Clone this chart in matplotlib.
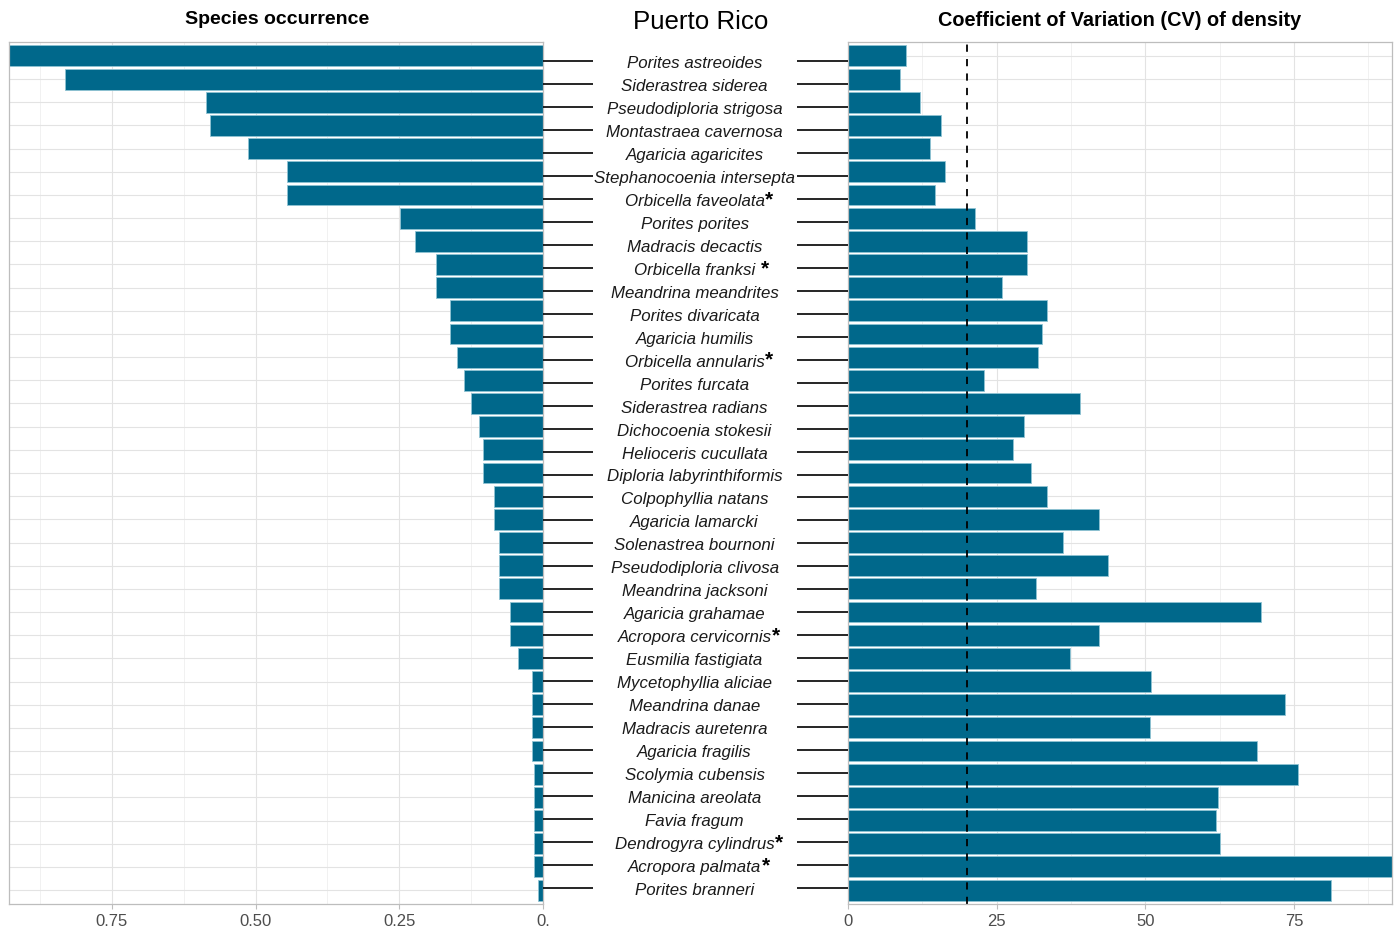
import numpy as np
import matplotlib
matplotlib.use("Agg")
import matplotlib.pyplot as plt

plt.rcParams['font.family'] = ['Liberation Sans', 'DejaVu Sans']

species = [
    "Porites astreoides", "Siderastrea siderea", "Pseudodiploria strigosa",
    "Montastraea cavernosa", "Agaricia agaricites", "Stephanocoenia intersepta",
    "Orbicella faveolata", "Porites porites", "Madracis decactis",
    "Orbicella franksi", "Meandrina meandrites", "Porites divaricata",
    "Agaricia humilis", "Orbicella annularis", "Porites furcata",
    "Siderastrea radians", "Dichocoenia stokesii", "Helioceris cucullata",
    "Diploria labyrinthiformis", "Colpophyllia natans", "Agaricia lamarcki",
    "Solenastrea bournoni", "Pseudodiploria clivosa", "Meandrina jacksoni",
    "Agaricia grahamae", "Acropora cervicornis", "Eusmilia fastigiata",
    "Mycetophyllia aliciae", "Meandrina danae", "Madracis auretenra",
    "Agaricia fragilis", "Scolymia cubensis", "Manicina areolata",
    "Favia fragum", "Dendrogyra cylindrus", "Acropora palmata",
    "Porites branneri",
]
starred = ["Orbicella faveolata", "Orbicella franksi", "Orbicella annularis",
           "Acropora cervicornis", "Dendrogyra cylindrus", "Acropora palmata"]

occurrence = [0.929, 0.832, 0.586, 0.579, 0.513, 0.445, 0.445, 0.248, 0.222,
              0.186, 0.186, 0.161, 0.161, 0.149, 0.137, 0.125, 0.112, 0.105,
              0.105, 0.086, 0.086, 0.076, 0.076, 0.076, 0.057, 0.057, 0.044,
              0.020, 0.020, 0.020, 0.020, 0.015, 0.015, 0.015, 0.015, 0.015,
              0.008]
cv_density = [9.8, 8.7, 12.1, 15.6, 13.8, 16.3, 14.6, 21.4, 30.1, 30.1, 25.9,
              33.5, 32.6, 32.0, 22.9, 39.0, 29.6, 27.8, 30.8, 33.5, 42.2, 36.2,
              43.7, 31.6, 69.5, 42.2, 37.3, 51.0, 73.5, 50.8, 68.8, 75.7, 62.2,
              61.9, 62.6, 91.5, 81.3]
cv_threshold = 20

occ_ticks = [0.75, 0.50, 0.25, 0.0]
occ_ticklabels = ["0.75", "0.50", "0.25", "0."]
occ_minor = [0.875, 0.625, 0.375, 0.125]
cv_ticks = [0, 25, 50, 75]
cv_minor = [12.5, 37.5, 62.5, 87.5]

BAR = "#00688B"
EDGE = "#8fc3d3"
GRID = "#E3E3E3"
GRID_MINOR = "#EFEFEF"
BORDER = "#BDBDBD"
TICKLBL = "#4D4D4D"

W, H = 1397, 928
fig = plt.figure(figsize=(W / 100, H / 100), dpi=100)


def rect(x0, y0, x1, y1):
    return [x0 / W, 1 - y1 / H, (x1 - x0) / W, (y1 - y0) / H]


n = len(species)
ypos = np.arange(n)

axL = fig.add_axes(rect(9, 43, 543, 905))
axR = fig.add_axes(rect(848, 43, 1392, 905))
axM = fig.add_axes(rect(543, 43, 848, 905))


def style(ax):
    ax.set_ylim(n - 1 + 0.6, -0.6)
    ax.set_yticks(ypos)
    ax.set_yticklabels([])
    ax.tick_params(axis='y', length=0)
    ax.tick_params(axis='x', which='major', length=3.5, color=BORDER,
                   labelcolor=TICKLBL, labelsize=12, pad=3, width=0.8)
    ax.tick_params(axis='x', which='minor', length=0)
    ax.grid(True, which='major', color=GRID, linewidth=0.8)
    ax.grid(True, which='minor', axis='x', color=GRID_MINOR, linewidth=0.6)
    ax.set_axisbelow(True)
    for s in ax.spines.values():
        s.set_color(BORDER)
        s.set_linewidth(0.9)


axL.barh(ypos, occurrence, height=0.9, color=BAR, edgecolor=EDGE, linewidth=0.6)
axL.set_xlim(max(occurrence), 0)
axL.set_xticks(occ_ticks)
axL.set_xticklabels(occ_ticklabels)
axL.set_xticks(occ_minor, minor=True)
style(axL)

axR.barh(ypos, cv_density, height=0.9, color=BAR, edgecolor=EDGE, linewidth=0.6)
axR.set_xlim(0, max(cv_density))
axR.set_xticks(cv_ticks)
axR.set_xticks(cv_minor, minor=True)
axR.axvline(cv_threshold, color="black", linestyle=(0, (4, 4)), linewidth=1.3)
style(axR)

# middle labels with connector lines
label_top, label_bot = 62, 889
u = (label_bot - label_top) / (n - 1)
axM.set_ylim(n - 1 + (905 - label_bot) / u, -(label_top - 43) / u)
axM.set_xlim(0, 1)
axM.axis('off')
for i, sp in enumerate(species):
    axM.plot([0, 0.164], [i, i], color="black", linewidth=1.2, solid_capstyle='butt')
    axM.plot([0.833, 1], [i, i], color="black", linewidth=1.2, solid_capstyle='butt')
    t = axM.text(0.497, i, sp, ha='center', va='center_baseline', style='italic',
                 fontsize=12.2, color="#1a1a1a")
    if sp in starred:
        off = 4 if sp == "Orbicella franksi" else 0.5
        axM.annotate("*", xy=(1, 0.62), xycoords=t, xytext=(off, 0),
                     textcoords='offset points', ha='left', va='center',
                     fontsize=15, fontweight='bold', color="black")

fig.text(277 / W, 1 - 20 / H, "Species occurrence", ha='center', va='center',
         fontsize=14, fontweight='bold')
fig.text(701 / W, 1 - 22 / H, "Puerto Rico", ha='center', va='center',
         fontsize=18.6)
fig.text(1120 / W, 1 - 20 / H, "Coefficient of Variation (CV) of density",
         ha='center', va='center', fontsize=14.3, fontweight='bold')

fig.savefig("out.png", dpi=100, facecolor="white")
